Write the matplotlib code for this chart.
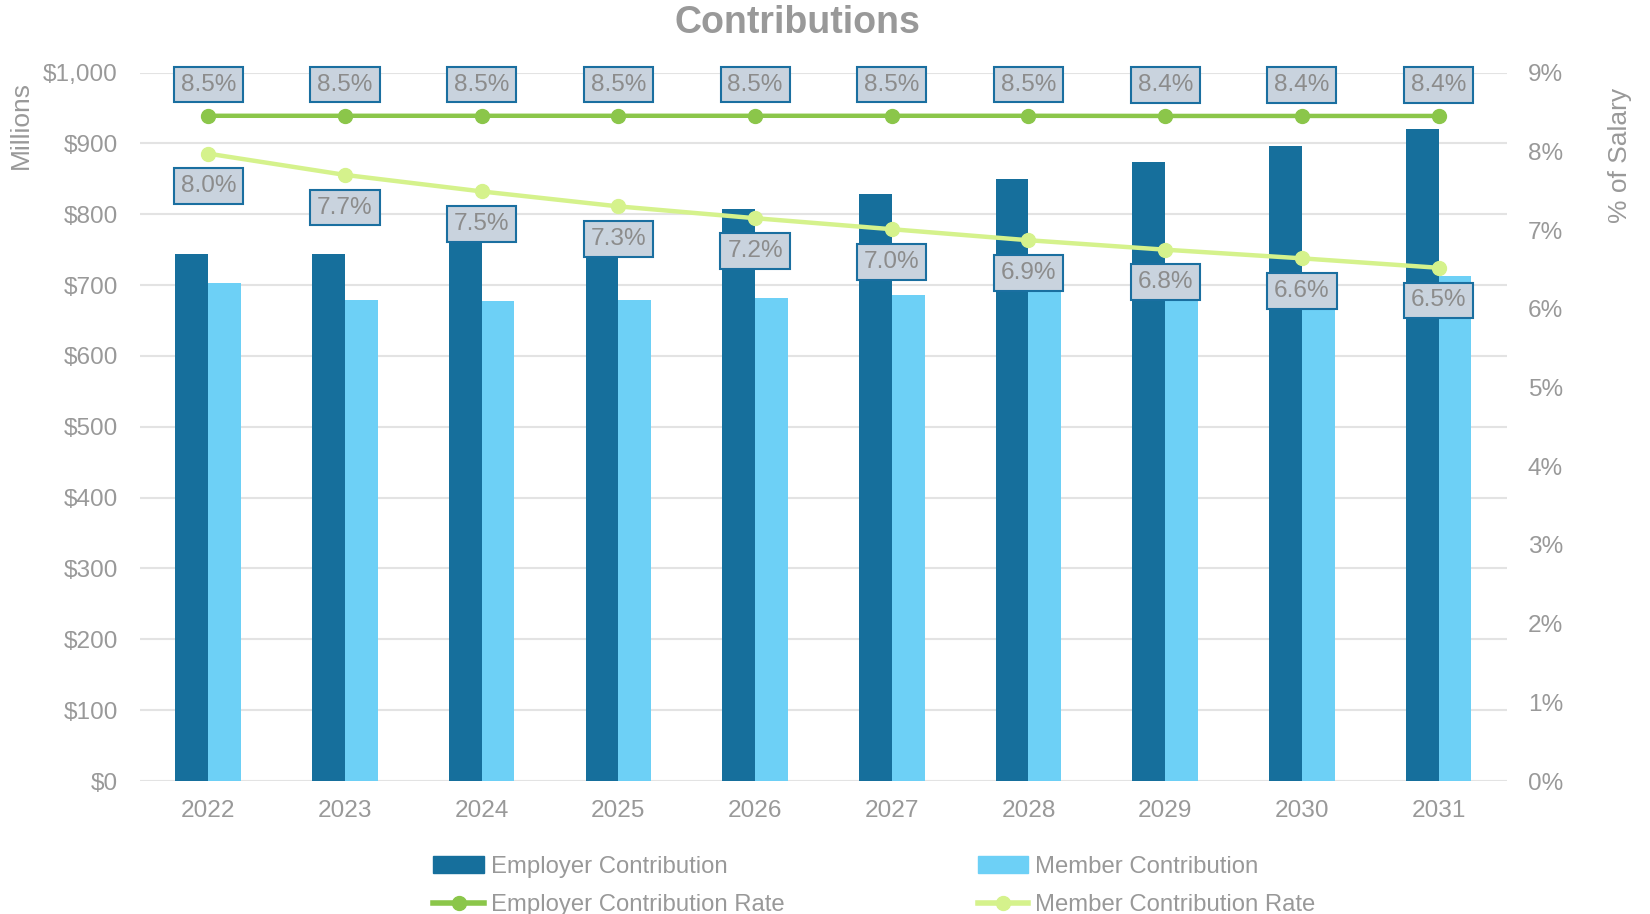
import matplotlib
matplotlib.use("Agg")
import matplotlib.pyplot as plt
from matplotlib.lines import Line2D
from matplotlib.patches import Patch
import numpy as np

years = ["2022", "2023", "2024", "2025", "2026", "2027", "2028", "2029", "2030", "2031"]
employer_contrib = [744, 744, 765, 786, 807, 829, 850, 874, 897, 921]
member_contrib = [703, 679, 678, 679, 682, 686, 692, 699, 705, 713]
employer_rate = [8.451, 8.451, 8.451, 8.451, 8.451, 8.451, 8.451, 8.449, 8.449, 8.449]
member_rate = [7.97, 7.70, 7.49, 7.30, 7.15, 7.01, 6.87, 6.75, 6.64, 6.52]

EMP_BAR = "#166f9c"
MEM_BAR = "#6dd0f6"
EMP_LINE = "#8bc64a"
MEM_LINE = "#d5f28c"
GRAY = "#999999"
LABEL_TXT = "#8c8c8c"
FS = 17.6

plt.rcParams["font.family"] = ["Liberation Sans", "DejaVu Sans"]

fig = plt.figure(figsize=(16.5, 9.14), dpi=100)
ax = fig.add_axes([0.0848, 0.1455, 0.8285, 0.7751])
ax2 = ax.twinx()

x = np.arange(len(years))
w = 0.24
ax.bar(x - w / 2, employer_contrib, w, color=EMP_BAR, zorder=2)
ax.bar(x + w / 2, member_contrib, w, color=MEM_BAR, zorder=2)

ax.set_xlim(-0.5, len(years) - 0.5)
ax.set_ylim(0, 1000)
ax.set_yticks(np.arange(0, 1001, 100))
ax.set_yticklabels([f"${v:,}" for v in range(0, 1001, 100)])
ax.set_xticks(x)
ax.set_xticklabels(years)
ax.grid(axis="y", color="#e3e3e3", lw=1.5, zorder=0)
ax.set_axisbelow(True)
for s in list(ax.spines.values()) + list(ax2.spines.values()):
    s.set_visible(False)
ax.tick_params(length=0, labelsize=FS, labelcolor=GRAY, pad=16)
ax.tick_params(axis="x", pad=14)

ax2.plot(x, employer_rate, color=EMP_LINE, lw=3.2, marker="o", ms=10, zorder=3)
ax2.plot(x, member_rate, color=MEM_LINE, lw=3.2, marker="o", ms=10, zorder=3)
ax2.set_ylim(0, 9)
ax2.set_yticks(range(0, 10))
ax2.set_yticklabels([f"{v}%" for v in range(0, 10)])
ax2.tick_params(length=0, labelsize=FS, labelcolor=GRAY, pad=15)

fig.text(0.0127, 0.863, "Millions", rotation=90, ha="center", va="center",
         fontsize=19, color=GRAY)
fig.text(0.982, 0.830, "% of Salary", rotation=90, ha="center", va="center",
         fontsize=19, color=GRAY)

box = dict(boxstyle="square,pad=0.28", fc="#c9d3de", ec="#1a6fa0", lw=1.5)
for xi, v in zip(x, employer_rate):
    ax2.annotate(f"{v:.1f}%", (xi, v), xytext=(0, 22.5), textcoords="offset points",
                 ha="center", va="center", fontsize=FS, color=LABEL_TXT, bbox=box, zorder=5)
for xi, v in zip(x, member_rate):
    ax2.annotate(f"{v:.1f}%", (xi, v), xytext=(0, -23.5), textcoords="offset points",
                 ha="center", va="center", fontsize=FS, color=LABEL_TXT, bbox=box, zorder=5)

fig.text(0.483, 0.975, "Contributions", ha="center", va="center",
         fontsize=27, fontweight="bold", color=GRAY)

handles = [
    Patch(color=EMP_BAR),
    Line2D([], [], color=EMP_LINE, lw=4, marker="o", ms=10),
    Patch(color=MEM_BAR),
    Line2D([], [], color=MEM_LINE, lw=4, marker="o", ms=10),
]
labels = ["Employer Contribution", "Employer Contribution Rate",
          "Member Contribution", "Member Contribution Rate"]
leg = fig.legend(handles, labels, ncol=2, loc="center", bbox_to_anchor=(0.530, 0.0305),
                 frameon=False, fontsize=17.2, handlelength=2.1, handleheight=0.7,
                 handletextpad=0.3, columnspacing=8.1, labelspacing=0.68)
for t in leg.get_texts():
    t.set_color(GRAY)

fig.savefig("out.png", dpi=100)
